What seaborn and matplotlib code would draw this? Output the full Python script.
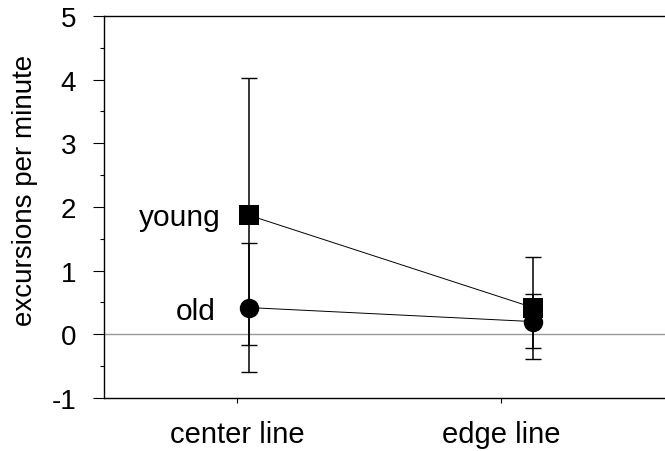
import matplotlib
matplotlib.use("Agg")
import matplotlib.pyplot as plt
import numpy as np
import pandas as pd
import seaborn as sns

# Mean excursions per minute for each group on each line type
conditions = ["center line", "edge line"]
groups = ["young", "old"]
young_mean = [1.87, 0.42]
young_low = [-0.16, -0.39]
young_high = [4.03, 1.21]
old_mean = [0.42, 0.20]
old_low = [-0.59, -0.21]
old_high = [1.43, 0.63]
y_ticks = [-1, 0, 1, 2, 3, 4, 5]

sns.set_theme(style="white")
plt.rcParams["font.family"] = ["Liberation Sans", "DejaVu Sans"]
plt.rcParams["text.color"] = "black"
plt.rcParams["axes.labelcolor"] = "black"
plt.rcParams["xtick.color"] = "black"
plt.rcParams["ytick.color"] = "black"

df = pd.DataFrame({
    "pos": [0, 1, 0, 1],
    "value": young_mean + old_mean,
    "group": ["young", "young", "old", "old"],
})

fig = plt.figure(figsize=(6.65, 4.52), dpi=100)
ax = fig.add_axes([0.1564, 0.1173, 0.8436, 0.8451])

# zero reference line
ax.axhline(0, color="#999999", lw=1.0, zorder=1)

# error bars
for mean, low, high in [(young_mean, young_low, young_high), (old_mean, old_low, old_high)]:
    m = np.array(mean)
    yerr = np.vstack([m - np.array(low), np.array(high) - m])
    ax.errorbar([0, 1], m, yerr=yerr, fmt="none", ecolor="black",
                elinewidth=1.1, capsize=5.5, capthick=1.0, zorder=2)

sns.lineplot(data=df, x="pos", y="value", style="group",
             markers={"young": "s", "old": "o"}, dashes=False,
             color="black", lw=0.7, markersize=14, markeredgewidth=0,
             legend=False, ax=ax, zorder=3)

# group labels beside the first points
for name, mean, dx, dy in [("young", young_mean, -0.10, -0.02), ("old", old_mean, -0.117, -0.05)]:
    ax.text(dx, mean[0] + dy, name, ha="right", va="center", fontsize=21.5,
            color="black")

ax.set_xlim(-0.511, 1.465)
ax.set_ylim(-1, 5)
ax.set_xticks([-0.042, 0.887])
ax.set_xticklabels(conditions, fontsize=21)
ax.set_yticks(y_ticks)
ax.set_yticklabels([str(v) for v in y_ticks], fontsize=20)
ax.set_yticks(np.arange(-0.5, 5, 1.0), minor=True)
ax.set_xlabel("")
ax.set_ylabel("excursions per minute", fontsize=20)
ax.yaxis.set_label_coords(-0.1176, 0.547)

ax.tick_params(axis="y", which="major", direction="out", length=8, width=0.8,
               color="black", pad=12, left=True)
ax.tick_params(axis="y", which="minor", direction="out", length=3, width=0.8,
               color="black", left=True)
ax.tick_params(axis="x", which="major", direction="out", length=3.5, width=0.8,
               color="black", pad=12, bottom=True)

for side in ["left", "bottom", "top"]:
    ax.spines[side].set_color("black")
    ax.spines[side].set_linewidth(1.0)
ax.spines["right"].set_visible(False)

fig.savefig("out.png", dpi=100)
